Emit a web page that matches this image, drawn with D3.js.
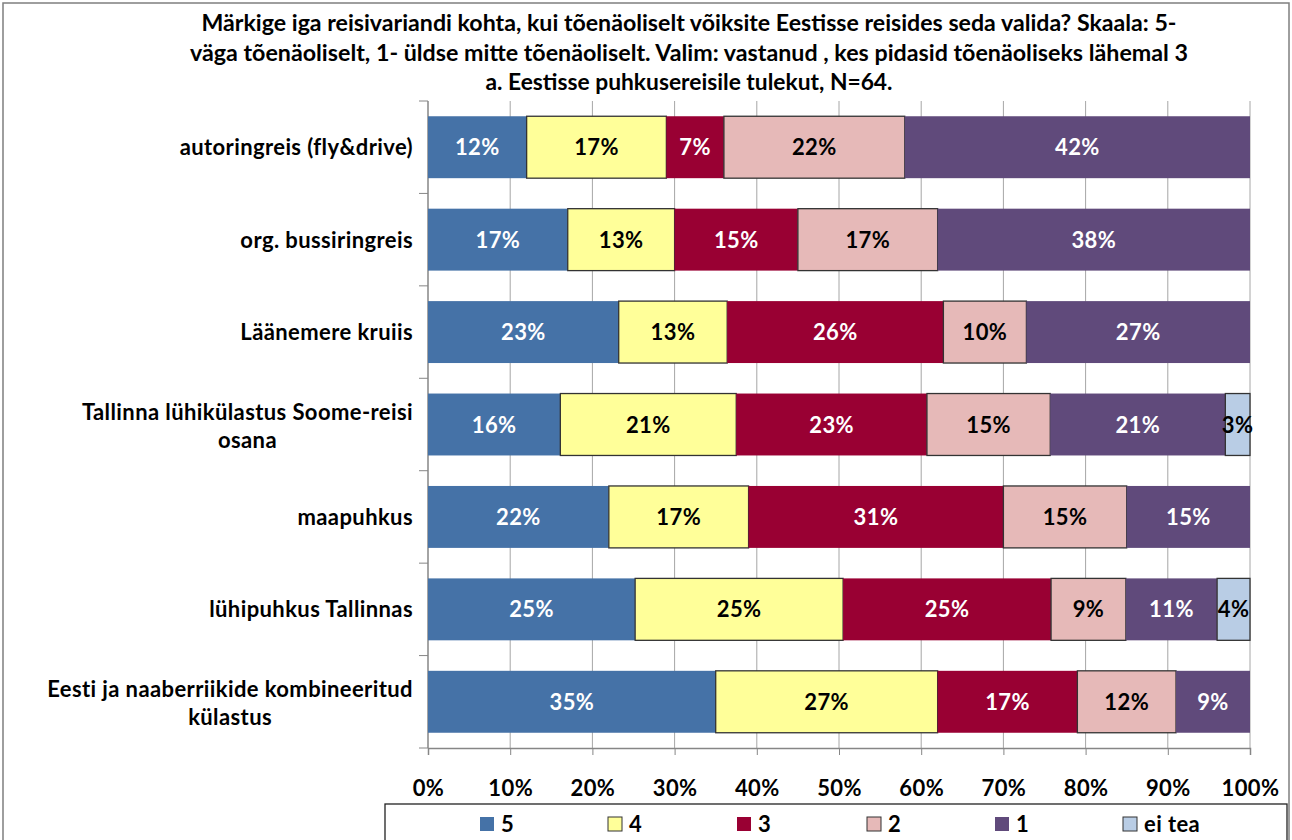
<!DOCTYPE html>
<html><head><meta charset="utf-8">
<script src="https://cdn.jsdelivr.net/npm/d3@7"></script>
<style>body{margin:0;background:#fff;}svg{display:block;}</style>
</head><body><svg id="c" width="1292" height="840"></svg>
<script>
const categories = ["autoringreis (fly&drive)","org. bussiringreis","Läänemere kruiis","Tallinna lühikülastus Soome-reisi osana","maapuhkus","lühipuhkus Tallinnas","Eesti ja naaberriikide kombineeritud külastus"];
const seriesNames = ["5","4","3","2","1","ei tea"];
const s5 = [12, 17, 23.2, 16.1, 22, 25.2, 35];
const s4 = [17, 13, 13.2, 21.4, 17, 25.3, 27];
const s3 = [7, 15, 26.3, 23.2, 31, 25.3, 17];
const s2 = [22, 17, 10.1, 15.0, 15, 9.1, 12];
const s1 = [42, 38, 27.2, 21.3, 15, 11.1, 9];
const sEiTea = [0, 0, 0, 3.0, 0, 4.0, 0];
const xTicks = [0,10,20,30,40,50,60,70,80,90,100];
const titleLines = ["Märkige iga reisivariandi kohta, kui tõenäoliselt võiksite Eestisse reisides seda valida? Skaala: 5-","väga tõenäoliselt, 1- üldse mitte tõenäoliselt. Valim: vastanud , kes pidasid tõenäoliseks lähemal 3","a. Eestisse puhkusereisile tulekut, N=64."];

const colors = ["#4572A7","#FFFF99","#990033","#E6B9B8","#604A7B","#B9CDE5"];
const textColors = ["#fff","#000","#fff","#000","#fff","#000"];
const bordered = [false,true,false,true,false,true];
const seriesVals = [s5,s4,s3,s2,s1,sEiTea];

const svg = d3.select("#c");
const font = "Lato, 'Open Sans', sans-serif";
const fs = 22, ls = 0.4;
// outer border
svg.append("rect").attr("x",3).attr("y",3).attr("width",1286).attr("height",850)
  .attr("fill","none").attr("stroke","#7f7f7f").attr("stroke-width",1.5);

// title
const tY = [31, 61, 90];
const tW = [975, 998, 407];
titleLines.forEach((t,i)=>{
  svg.append("text").attr("x",689 - tW[i]/2).attr("y",tY[i])
   .attr("font-family",font).attr("textLength",tW[i]).attr("lengthAdjust","spacingAndGlyphs")
   .attr("font-weight","bold").attr("font-size",22).attr("fill","#000").text(t);
});

const pLeft = 428, pRight = 1250, pTop = 101, pBottom = 748;
const x = d3.scaleLinear().domain([0,100]).range([pLeft,pRight]);
const y = d3.scaleBand().domain(categories).range([pTop,pBottom]).paddingInner(0.33).paddingOuter(0.165);

// gridlines
svg.append("g").selectAll("line").data(xTicks.slice(1)).join("line")
  .attr("x1",d=>x(d)).attr("x2",d=>x(d)).attr("y1",pTop).attr("y2",pBottom)
  .attr("stroke","#a6a6a6").attr("stroke-width",1);

// x axis
const xAxis = svg.append("g").attr("transform",`translate(0,${pBottom})`)
  .call(d3.axisBottom(x).tickValues(xTicks).tickSize(7).tickFormat(d=>d+"%"));
xAxis.select(".domain").attr("stroke","#868686").attr("stroke-width",1.5);
xAxis.selectAll(".tick line").attr("stroke","#868686");
xAxis.selectAll("text").attr("font-family",font).attr("font-weight","bold").attr("letter-spacing",ls)
  .attr("font-size",fs).attr("fill","#000").attr("dy",0).attr("y",48);

// y axis line + ticks at boundaries
svg.append("line").attr("x1",pLeft).attr("x2",pLeft).attr("y1",pTop).attr("y2",pBottom)
  .attr("stroke","#868686").attr("stroke-width",1.5);
const bounds = d3.range(categories.length+1).map(i=>pTop + i*(pBottom-pTop)/categories.length);
svg.append("g").selectAll("line").data(bounds).join("line")
  .attr("x1",pLeft-9).attr("x2",pLeft).attr("y1",d=>d).attr("y2",d=>d)
  .attr("stroke","#868686").attr("stroke-width",1);

// bars
const stackData = categories.map((c,i)=>{const o={cat:c}; seriesNames.forEach((s,j)=>o[s]=seriesVals[j][i]); return o;});
const stack = d3.stack().keys(seriesNames)(stackData);
stack.forEach((layer,j)=>{
  const g = svg.append("g");
  layer.forEach((d)=>{
    const v = d[1]-d[0];
    if (v<=0) return;
    const cy = y(d.data.cat);
    g.append("rect").attr("x",x(d[0])).attr("y",cy).attr("width",x(d[1])-x(d[0])).attr("height",y.bandwidth())
      .attr("fill",colors[j]).attr("stroke",bordered[j]?"#333":"none").attr("stroke-width",1.3);
    g.append("text").attr("x",(x(d[0])+x(d[1]))/2).attr("y",cy+y.bandwidth()/2+8)
      .attr("text-anchor","middle").attr("font-family",font).attr("font-weight","bold").attr("letter-spacing",ls)
      .attr("font-size",fs).attr("fill",textColors[j]).text(Math.round(v)+"%");
  });
});

// category labels (wrapped)
const labelLines = {
  "Tallinna lühikülastus Soome-reisi osana":["Tallinna lühikülastus Soome-reisi","osana"],
  "Eesti ja naaberriikide kombineeritud külastus":["Eesti ja naaberriikide kombineeritud","külastus"]
};
categories.forEach(c=>{
  const cy = y(c)+y.bandwidth()/2;
  const lines = labelLines[c] || [c];
  if (lines.length===1){
    svg.append("text").attr("x",413).attr("y",cy+8).attr("text-anchor","end").attr("letter-spacing",ls)
      .attr("font-family",font).attr("font-weight","bold").attr("font-size",fs).attr("fill","#000").text(c);
  } else {
    const t = svg.append("text").attr("font-family",font).attr("font-weight","bold").attr("font-size",fs).attr("letter-spacing",ls).attr("fill","#000");
    const t1 = t.append("tspan").attr("x",413).attr("y",cy-5).attr("text-anchor","end").text(lines[0]);
    const w = t1.node().getComputedTextLength();
    t.append("tspan").attr("x",413-w/2).attr("y",cy+23).attr("text-anchor","middle").text(lines[1]);
  }
});

// legend
svg.append("rect").attr("x",385).attr("y",804).attr("width",902).attr("height",50)
  .attr("fill","#fff").attr("stroke","#222").attr("stroke-width",1.3);
const legX = [480, 608, 737, 867, 995, 1123];
seriesNames.forEach((s,j)=>{
  svg.append("rect").attr("x",legX[j]).attr("y",817).attr("width",14).attr("height",14)
    .attr("fill",colors[j]).attr("stroke",bordered[j]?"#333":"none").attr("stroke-width",1);
  svg.append("text").attr("x",legX[j]+21).attr("y",832).attr("font-family",font).attr("letter-spacing",ls)
    .attr("font-weight","bold").attr("font-size",fs).attr("fill","#000").text(s);
});
</script></body></html>
